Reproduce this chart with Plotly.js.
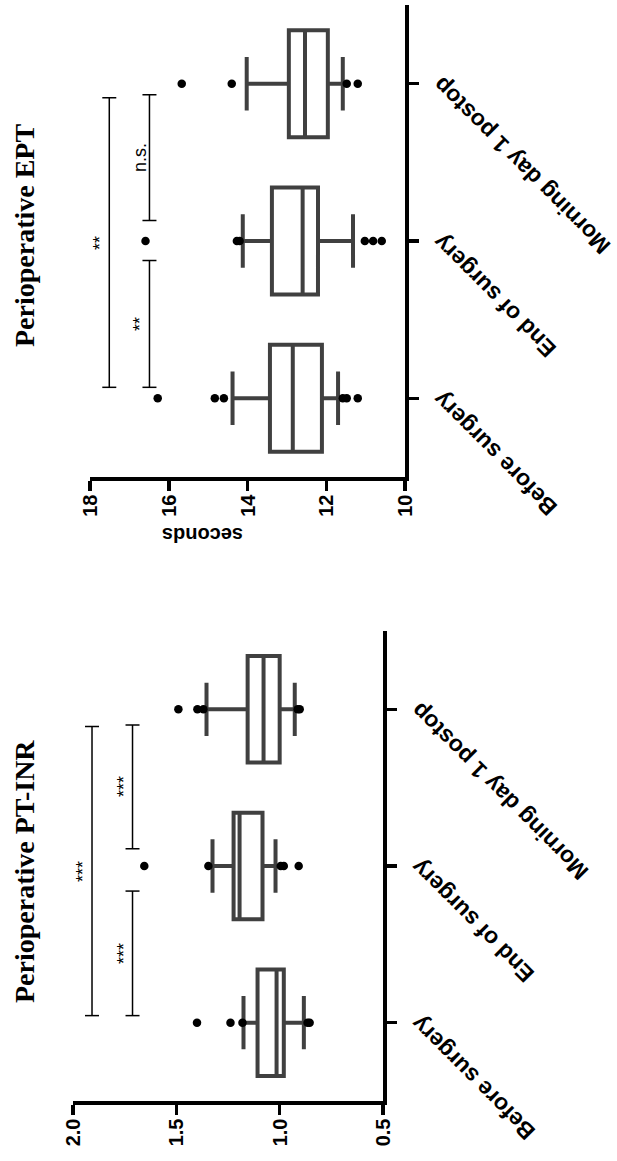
<!DOCTYPE html>
<html>
<head>
<meta charset="utf-8">
<script src="https://cdn.plot.ly/plotly-3.0.1.min.js"></script>
<style>
  html, body { margin: 0; padding: 0; background: #fff; }
  #wrap { position: relative; width: 617px; height: 1161px; overflow: hidden; background: #fff; }
  #plot { position: absolute; left: 0; top: 0; width: 1161px; height: 617px;
          transform-origin: 0 0; transform: translateY(1161px) rotate(-90deg); }
</style>
</head>
<body>
<div id="wrap"><div id="plot"></div></div>
<script>
// ---------- data ----------
const categories = ['Before surgery', 'End of surgery', 'Morning day 1 postop'];

// Perioperative PT-INR
const inrQ1 = [0.98, 1.083, 1.0];
const inrMedian = [1.015, 1.194, 1.078];
const inrQ3 = [1.107, 1.223, 1.155];
const inrLower = [0.883, 1.02, 0.927];
const inrUpper = [1.175, 1.325, 1.354];
const inrOutliers = [
  [1.40, 1.238, 1.18, 0.865, 0.855],
  [1.655, 1.345, 0.995, 0.98, 0.908],
  [1.49, 1.398, 1.369, 0.913, 0.903]
];
const inrBracketPairs = [[0.045, 1.89], [0.045, 0.84], [1.11, 1.90]];
const inrBracketLevels = [1.908, 1.712, 1.712];
const inrBracketLabels = ['***', '***', '***'];

// Perioperative EPT (seconds)
const eptQ1 = [12.11, 12.21, 11.96];
const eptMedian = [12.85, 12.6, 12.54];
const eptQ3 = [13.43, 13.38, 12.95];
const eptLower = [11.70, 11.32, 11.58];
const eptUpper = [14.38, 14.12, 14.02];
const eptOutliers = [
  [16.28, 14.83, 14.6, 11.58, 11.48, 11.2],
  [16.59, 14.27, 14.2, 11.02, 10.81, 10.59],
  [15.67, 14.4, 11.48, 11.2]
];
const eptBracketPairs = [[0.07, 1.91], [0.07, 0.876], [1.13, 1.93]];
const eptBracketLevels = [17.51, 16.49, 16.49];
const eptBracketLabels = ['**', '**', 'n.s.'];

const inrTicks = [0.5, 1.0, 1.5, 2.0];
const eptTicks = [10, 12, 14, 16, 18];

// ---------- styles ----------
const boxColor = '#404040';
const sansBold = {family: 'Liberation Sans, Arial, sans-serif', size: 20, color: '#000', weight: 'bold'};
const catFont = {family: 'Liberation Sans, Arial, sans-serif', size: 23, color: '#000', weight: 'bold'};

function boxTrace(q1, med, q3, lo, hi, xa, ya) {
  return {
    type: 'box', x: categories, q1: q1, median: med, q3: q3,
    lowerfence: lo, upperfence: hi, boxpoints: false,
    xaxis: xa, yaxis: ya, width: 0.68, whiskerwidth: 0.5,
    line: {color: boxColor, width: 4}, fillcolor: '#ffffff',
    showlegend: false, hoverinfo: 'skip'
  };
}
function outlierTrace(outs, xa, ya) {
  const xs = [], ys = [];
  outs.forEach((arr, i) => arr.forEach(v => { xs.push(categories[i]); ys.push(v); }));
  return {type: 'scatter', mode: 'markers', x: xs, y: ys, xaxis: xa, yaxis: ya,
          marker: {color: '#000', size: 8.5}, showlegend: false, hoverinfo: 'skip'};
}

const data = [
  boxTrace(inrQ1, inrMedian, inrQ3, inrLower, inrUpper, 'x', 'y'),
  outlierTrace(inrOutliers, 'x', 'y'),
  boxTrace(eptQ1, eptMedian, eptQ3, eptLower, eptUpper, 'x2', 'y2'),
  outlierTrace(eptOutliers, 'x2', 'y2')
];

const shapes = [];
const annotations = [];
function addBrackets(pairs, levels, labels, xr, yr) {
  pairs.forEach((p, i) => {
    const ln = {color: '#000', width: 1.5};
    shapes.push({type: 'line', xref: xr, yref: yr, x0: p[0], x1: p[1], y0: levels[i], y1: levels[i], line: ln});
    [p[0], p[1]].forEach(c => shapes.push({type: 'line', xref: xr, yref: yr, x0: c, x1: c,
      ysizemode: 'pixel', yanchor: levels[i], y0: -7, y1: 7, line: ln}));
    annotations.push({xref: xr, yref: yr, x: (p[0] + p[1]) / 2, y: levels[i], text: labels[i],
      showarrow: false, yanchor: 'bottom', yshift: -3,
      font: {family: 'Liberation Sans, Arial, sans-serif', size: 18, color: '#000'}});
  });
}
addBrackets(inrBracketPairs, inrBracketLevels, inrBracketLabels, 'x', 'y');
addBrackets(eptBracketPairs, eptBracketLevels, eptBracketLabels, 'x2', 'y2');

const titleFont = {family: 'Liberation Serif, Times New Roman, serif', size: 28, color: '#000', weight: 'bold'};
annotations.push({xref: 'paper', yref: 'paper', x: 0.249, y: 0.961, text: 'Perioperative PT-INR',
  showarrow: false, xanchor: 'center', yanchor: 'middle', font: titleFont});
annotations.push({xref: 'paper', yref: 'paper', x: 0.797, y: 0.961, text: 'Perioperative EPT',
  showarrow: false, xanchor: 'center', yanchor: 'middle', font: titleFont});
annotations.push({xref: 'paper', yref: 'paper', x: 626 / 1161, y: 1 - 203 / 617, text: 'seconds',
  showarrow: false, textangle: -90, xanchor: 'center', yanchor: 'middle', font: sansBold});

function catAxis(domain, anchor) {
  return {domain: domain, anchor: anchor, type: 'category', range: [-0.5, 2.5],
    showline: true, linecolor: '#000', linewidth: 3.5, ticks: 'outside', ticklen: 10,
    tickwidth: 3.5, tickcolor: '#000', tickangle: -45, tickfont: catFont,
    showgrid: false, zeroline: false, fixedrange: true};
}
function valAxis(domain, anchor, range, ticks, fmt) {
  return {domain: domain, anchor: anchor, range: range, tickvals: ticks, tickformat: fmt,
    showline: true, linecolor: '#000', linewidth: 3.5, ticks: 'outside', ticklen: 10,
    tickwidth: 3.5, tickcolor: '#000', tickfont: sansBold,
    showgrid: false, zeroline: false, fixedrange: true};
}

const layout = {
  width: 1161, height: 617, margin: {l: 0, r: 0, t: 0, b: 0},
  paper_bgcolor: '#fff', plot_bgcolor: '#fff', showlegend: false,
  xaxis: catAxis([60 / 1161, 530 / 1161], 'y'),
  yaxis: valAxis([1 - 383 / 617, 1 - 73 / 617], 'x', [0.5, 2.0], inrTicks, '.1f'),
  xaxis2: catAxis([684 / 1161, 1156 / 1161], 'y2'),
  yaxis2: valAxis([1 - 405 / 617, 1 - 90 / 617], 'x2', [10, 18], eptTicks, 'd'),
  shapes: shapes, annotations: annotations
};

Plotly.newPlot('plot', data, layout, {staticPlot: true, displayModeBar: false});
</script>
</body>
</html>
